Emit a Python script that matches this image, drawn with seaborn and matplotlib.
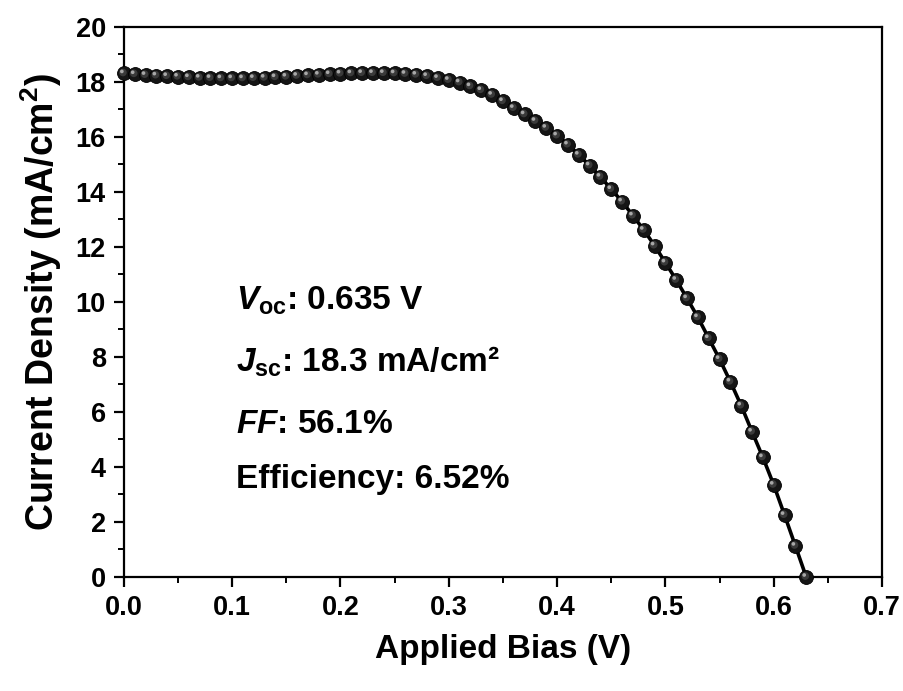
import numpy as np
import pandas as pd
import matplotlib
matplotlib.use("Agg")
import matplotlib.pyplot as plt
import matplotlib.transforms as mtransforms
from matplotlib.ticker import MultipleLocator
import seaborn as sns

# ---- data ----
bias_v = [0.00, 0.01, 0.02, 0.03, 0.04, 0.05, 0.06, 0.07, 0.08, 0.09,
          0.10, 0.11, 0.12, 0.13, 0.14, 0.15, 0.16, 0.17, 0.18, 0.19,
          0.20, 0.21, 0.22, 0.23, 0.24, 0.25, 0.26, 0.27, 0.28, 0.29,
          0.30, 0.31, 0.32, 0.33, 0.34, 0.35, 0.36, 0.37, 0.38, 0.39,
          0.40, 0.41, 0.42, 0.43, 0.44, 0.45, 0.46, 0.47, 0.48, 0.49,
          0.50, 0.51, 0.52, 0.53, 0.54, 0.55, 0.56, 0.57, 0.58, 0.59,
          0.60, 0.61, 0.62, 0.63]
current_density = [18.31, 18.28, 18.25, 18.23, 18.21, 18.19, 18.17, 18.15, 18.14, 18.13,
                   18.13, 18.13, 18.14, 18.15, 18.17, 18.19, 18.22, 18.24, 18.26, 18.28,
                   18.30, 18.31, 18.32, 18.32, 18.32, 18.31, 18.29, 18.26, 18.21, 18.14,
                   18.07, 17.98, 17.84, 17.70, 17.53, 17.30, 17.05, 16.82, 16.58, 16.33,
                   16.05, 15.72, 15.35, 14.96, 14.55, 14.10, 13.65, 13.14, 12.62, 12.05,
                   11.43, 10.80, 10.13, 9.44, 8.68, 7.92, 7.10, 6.23, 5.28, 4.35,
                   3.35, 2.25, 1.13, 0.00]

x_ticks = [0.0, 0.1, 0.2, 0.3, 0.4, 0.5, 0.6, 0.7]
y_ticks = [0, 2, 4, 6, 8, 10, 12, 14, 16, 18, 20]

annotations = [r"$V_{\mathrm{oc}}$: 0.635 V",
               r"$J_{\mathrm{sc}}$: 18.3 mA/cm²",
               r"$FF$: 56.1%",
               "Efficiency: 6.52%"]

df = pd.DataFrame({"bias": bias_v, "J": current_density})

# ---- style ----
sns.set_style("ticks")
plt.rcParams["font.family"] = ["Liberation Sans", "DejaVu Sans"]
plt.rcParams["font.weight"] = "bold"
plt.rcParams["text.color"] = "black"
plt.rcParams["axes.labelcolor"] = "black"
plt.rcParams["xtick.color"] = "black"
plt.rcParams["ytick.color"] = "black"
plt.rcParams["mathtext.fontset"] = "custom"
plt.rcParams["mathtext.rm"] = "Liberation Sans:bold"
plt.rcParams["mathtext.it"] = "Liberation Sans:bold:italic"
plt.rcParams["mathtext.bf"] = "Liberation Sans:bold"

fig = plt.figure(figsize=(9.04, 6.91), dpi=100)
ax = fig.add_axes([0.137, 0.165, 0.8387, 0.796])

sns.lineplot(data=df, x="bias", y="J", ax=ax, color="black", linewidth=2.6,
             marker="o", markersize=10.0, markeredgecolor="black",
             markerfacecolor="#151515", markeredgewidth=0.6, zorder=3,
             clip_on=False)

# sphere shading / highlights
mid = mtransforms.offset_copy(ax.transData, fig=fig, x=-0.9, y=0.9, units="dots")
ax.scatter(df["bias"], df["J"], s=30, color="#3a3a3a", edgecolors="none",
           transform=mid, zorder=4, clip_on=False)
hl = mtransforms.offset_copy(ax.transData, fig=fig, x=-2.0, y=2.0, units="dots")
ax.scatter(df["bias"], df["J"], s=7, color="#a8a8a8", edgecolors="none",
           transform=hl, zorder=5, clip_on=False)

ax.set_xlim(0.0, 0.7)
ax.set_ylim(0, 20)
ax.set_xticks(x_ticks)
ax.set_yticks(y_ticks)
ax.set_xticklabels([f"{v:.1f}" for v in x_ticks])
ax.set_yticklabels([str(v) for v in y_ticks])
ax.xaxis.set_minor_locator(MultipleLocator(0.05))
ax.yaxis.set_minor_locator(MultipleLocator(1))

for s in ax.spines.values():
    s.set_linewidth(1.6)
    s.set_color("black")
    s.set_visible(True)

ax.tick_params(axis="both", which="major", direction="out", length=7, width=1.6,
               labelsize=19.5, pad=6, colors="black")
ax.tick_params(axis="both", which="minor", direction="out", length=4, width=1.4,
               colors="black")
ax.tick_params(top=False, right=False, which="both")
for lab in ax.get_xticklabels() + ax.get_yticklabels():
    lab.set_fontweight("bold")

ax.set_xlabel("Applied Bias (V)", fontsize=24, fontweight="bold", labelpad=9,
              color="black")
ax.set_ylabel(r"Current Density (mA/cm$^{2}$)", fontsize=27, fontweight="bold",
              labelpad=8, color="black")

y_pos = [0.487, 0.373, 0.262, 0.162]
for txt, yp in zip(annotations, y_pos):
    ax.text(0.148, yp, txt, transform=ax.transAxes, fontsize=24,
            fontweight="bold", ha="left", va="baseline", color="black")

fig.savefig("out.png", dpi=100, facecolor="white")
